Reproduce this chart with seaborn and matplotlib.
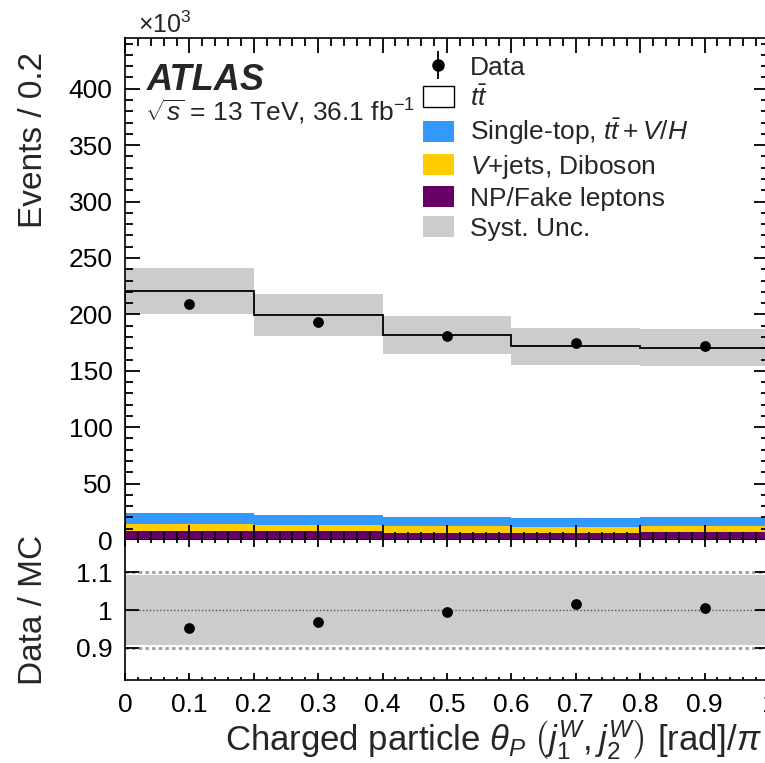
import numpy as np
import pandas as pd
import matplotlib
matplotlib.use("Agg")
import matplotlib.pyplot as plt
import seaborn as sns
from matplotlib.patches import Patch
from matplotlib.lines import Line2D
from matplotlib.legend_handler import HandlerTuple
from matplotlib.ticker import MultipleLocator, FixedLocator, FuncFormatter

# ---------------- data (events in units of 10^3) ----------------
bin_edges = [0.0, 0.2, 0.4, 0.6, 0.8, 1.0]
bin_centers = [0.1, 0.3, 0.5, 0.7, 0.9]
ttbar = [196.3, 176.9, 161.5, 152.4, 149.8]
single_top = [9.5, 8.9, 8.3, 7.6, 8.0]
vjets_diboson = [6.8, 5.9, 5.8, 5.9, 5.3]
np_fakes = [7.8, 7.8, 6.4, 5.8, 7.5]
data = [209.6, 193.0, 181.0, 174.4, 171.7]
syst_rel = [0.092, 0.093, 0.093, 0.094, 0.094]

proc_names = ["ttbar", "Single-top", "V+jets", "NP/Fake"]
proc_colors = {"ttbar": "#FFFFFF", "Single-top": "#3399FF",
               "V+jets": "#FFCC00", "NP/Fake": "#660066"}

sns.set_theme(style="ticks", rc={
    "xtick.direction": "in", "ytick.direction": "in",
    "xtick.top": True, "ytick.right": True,
    "xtick.bottom": True, "ytick.left": True,
    "xtick.color": "black", "ytick.color": "black",
    "axes.edgecolor": "black",
    "axes.axisbelow": False,
})
plt.rcParams["font.family"] = ["Liberation Sans", "DejaVu Sans"]
plt.rcParams["mathtext.fontset"] = "custom"
plt.rcParams["mathtext.rm"] = "Liberation Sans"
plt.rcParams["mathtext.it"] = "Liberation Sans:italic"
plt.rcParams["mathtext.bf"] = "Liberation Sans:bold"

TICK_FS = 19
LABEL_FS = 24

W, H = 765, 763
fig = plt.figure(figsize=(W / 100, H / 100), dpi=100)
ax = fig.add_axes([125 / W, (H - 540) / H, 644 / W, 502 / H])
rax = fig.add_axes([125 / W, (H - 680) / H, 644 / W, 140 / H])
ax.set_axisbelow(False)
rax.set_axisbelow(False)

# stacked MC via seaborn
rows = []
for name, vals in zip(proc_names, [ttbar, single_top, vjets_diboson, np_fakes]):
    for c, v in zip(bin_centers, vals):
        rows.append({"x": c, "w": v, "process": name})
df = pd.DataFrame(rows)
sns.histplot(data=df, x="x", weights="w", hue="process", hue_order=proc_names,
             multiple="stack", bins=bin_edges, palette=proc_colors,
             element="bars", linewidth=0, alpha=1, legend=False, ax=ax, zorder=1)

total = np.array(ttbar) + np.array(single_top) + np.array(vjets_diboson) + np.array(np_fakes)
err = total * np.array(syst_rel)
ax.bar(bin_centers, 2 * err, bottom=total - err, width=0.2, color="#CCCCCC",
       linewidth=0, zorder=2)
ax.stairs(total, bin_edges, color="black", linewidth=1.3, zorder=3)
data_arr = np.array(data)
ax.errorbar(bin_centers, data_arr, yerr=np.sqrt(data_arr * 1e3) / 1e3, fmt="none",
            ecolor="black", elinewidth=1.3, zorder=4)
sns.scatterplot(x=bin_centers, y=data, color="black", s=60, edgecolor="black",
                linewidth=0, zorder=5, ax=ax, legend=False)

ax.set_xlim(0, 1)
ax.set_ylim(0, 445)
ax.set_xlabel("")
ax.set_ylabel("Events / 0.2", fontsize=LABEL_FS, loc="top")
ax.yaxis.set_label_coords(-0.118, 0.972)
ax.yaxis.set_major_locator(MultipleLocator(50))
ax.yaxis.set_minor_locator(MultipleLocator(10))
ax.xaxis.set_major_locator(MultipleLocator(0.1))
ax.xaxis.set_minor_locator(MultipleLocator(0.02))
ax.tick_params(axis="both", which="both", direction="in", top=True, right=True,
               bottom=True, left=True, labelsize=TICK_FS, width=1.3, color="black")
ax.tick_params(axis="both", which="major", length=11)
ax.tick_params(axis="both", which="minor", length=6)
ax.tick_params(axis="y", pad=9)
ax.tick_params(axis="x", labelbottom=False)
for s in ax.spines.values():
    s.set_linewidth(1.2)
    s.set_color("black")
    s.set_zorder(6)

# texts
fig.text(138 / W, 1 - 33 / H, r"$\times10^3$", fontsize=18, va="baseline", ha="left")
fig.text(147 / W, 1 - 90 / H, "ATLAS", fontsize=26, fontweight="bold",
         fontstyle="italic", va="baseline", ha="left")
fig.text(145 / W, 1 - 121 / H, r"$\sqrt{s}$ = 13 TeV, 36.1 fb$^{-1}$", fontsize=19,
         va="baseline", ha="left")

# legend
h_data = (Line2D([0], [0], color="black", lw=1.3, marker="|", markersize=20,
                 markeredgewidth=1.3, linestyle="none"),
          Line2D([0], [0], color="black", marker="o", markersize=8, linestyle="none"))
handles = [h_data,
           Patch(facecolor="white", edgecolor="black", linewidth=1.0),
           Patch(facecolor=proc_colors["Single-top"], edgecolor="none"),
           Patch(facecolor=proc_colors["V+jets"], edgecolor="none"),
           Patch(facecolor=proc_colors["NP/Fake"], edgecolor="none"),
           Patch(facecolor="#CCCCCC", edgecolor="none")]
labels = ["Data", r"$t\bar{t}$", r"Single-top, $t\bar{t}+V/H$", r"$V$+jets, Diboson",
          "NP/Fake leptons", "Syst. Unc."]
fig.legend(handles, labels, loc="upper left", bbox_to_anchor=(423 / W, 1 - 55 / H),
           frameon=False, fontsize=TICK_FS, borderpad=0, borderaxespad=0,
           handlelength=1.17, handleheight=0.86, handletextpad=0.6, labelspacing=0.2,
           handler_map={tuple: HandlerTuple(ndivide=1)})

# ratio panel
ratio = data_arr / total
rel = np.array(syst_rel)
rax.bar(bin_centers, 2 * rel, bottom=1 - rel, width=0.2, color="#CCCCCC", linewidth=0, zorder=1)
rax.axhline(1.1, color="#999999", linestyle=(0, (1.2, 1.2)), linewidth=2, zorder=2)
rax.axhline(0.9, color="#999999", linestyle=(0, (1.2, 1.2)), linewidth=2, zorder=2)
rax.axhline(1.0, color="#555555", linestyle=(0, (1, 1.5)), linewidth=1, zorder=2)
sns.scatterplot(x=bin_centers, y=ratio, color="black", s=60, edgecolor="black",
                linewidth=0, zorder=5, ax=rax, legend=False)
rax.set_ylim(0.814, 1.186)
rax.set_xlim(0, 1)
rax.xaxis.set_major_locator(MultipleLocator(0.1))
rax.xaxis.set_minor_locator(MultipleLocator(0.02))
rax.yaxis.set_major_locator(FixedLocator([0.9, 1.0, 1.1]))
rax.yaxis.set_minor_locator(FixedLocator([]))
rax.yaxis.set_major_formatter(FuncFormatter(lambda v, p: f"{v:g}"))
rax.xaxis.set_major_formatter(FuncFormatter(lambda v, p: f"{v:g}"))
rax.tick_params(axis="both", which="both", direction="in", top=True, right=True,
                bottom=True, left=True, labelsize=TICK_FS, width=1.3, color="black")
rax.tick_params(axis="x", which="major", length=5, pad=9)
rax.tick_params(axis="x", which="minor", length=2.5)
rax.tick_params(axis="y", which="major", length=10, pad=9)
rax.set_ylabel("Data / MC", fontsize=LABEL_FS)
rax.yaxis.set_label_coords(-0.118, 0.5)
rax.set_xlabel(r"Charged particle $\theta_P\;\left(j_1^W, j_2^W\right)$ [rad]$/\pi$",
               fontsize=25, loc="right")
rax.xaxis.set_label_coords(0.989, -0.27)
for s in rax.spines.values():
    s.set_linewidth(1.2)
    s.set_color("black")
    s.set_zorder(6)
rax.spines["top"].set_visible(False)

fig.savefig("out.png", dpi=100)
